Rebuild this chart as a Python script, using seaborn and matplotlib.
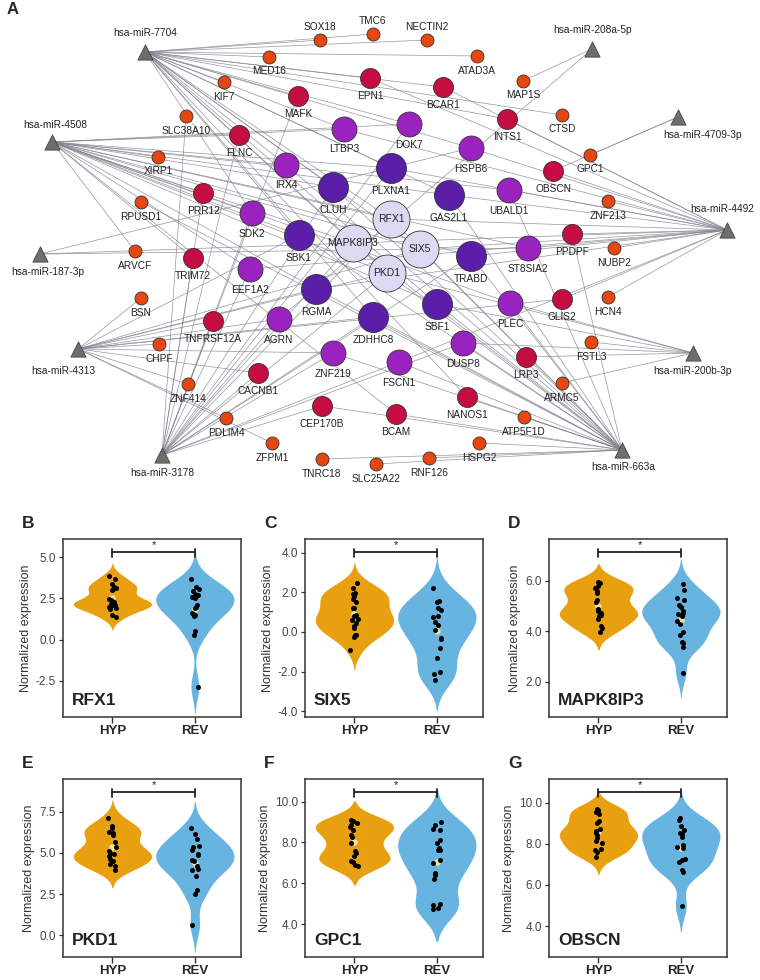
import numpy as np
import pandas as pd
import matplotlib
matplotlib.use("Agg")
import matplotlib.pyplot as plt
import seaborn as sns
from collections import Counter
from matplotlib.ticker import FormatStrFormatter
from matplotlib.transforms import blended_transform_factory

sns.set_style("white")
plt.rcParams["font.family"] = ["Liberation Sans", "DejaVu Sans"]
plt.rcParams["axes.unicode_minus"] = False

# ---------------- panel A data: miRNA -> target genes ----------------
targets = {
    "hsa-miR-7704": ["SOX18", "TMC6", "NECTIN2", "ATAD3A", "CTSD", "MED16", "KIF7", "EPN1",
                     "BCAR1", "INTS1", "MAFK", "NANOS1", "LTBP3", "DOK7", "HSPB6", "IRX4",
                     "SDK2", "CLUH", "PLXNA1", "GAS2L1", "SBK1", "ZDHHC8", "SBF1", "RFX1",
                     "SIX5", "MAPK8IP3", "PKD1"],
    "hsa-miR-4508": ["XIRP1", "ARVCF", "FLNC", "PRR12", "TRIM72", "BCAM", "LTBP3", "DOK7",
                     "IRX4", "SDK2", "UBALD1", "ST8SIA2", "EEF1A2", "PLEC", "CLUH", "PLXNA1",
                     "GAS2L1", "SBK1", "TRABD", "RGMA", "SBF1", "RFX1", "SIX5", "MAPK8IP3", "PKD1"],
    "hsa-miR-4492": ["HCN4", "NUBP2", "ZNF213", "EPN1", "BCAR1", "INTS1", "GLIS2", "PPDPF",
                     "OBSCN", "LTBP3", "HSPB6", "UBALD1", "ST8SIA2", "EEF1A2", "FSCN1", "PLXNA1",
                     "GAS2L1", "TRABD", "RGMA", "RFX1", "SIX5", "MAPK8IP3"],
    "hsa-miR-663a": ["RPUSD1", "TNRC18", "SLC25A22", "RNF126", "HSPG2", "ATP5F1D", "CEP170B",
                     "BCAM", "NANOS1", "LRP3", "PPDPF", "IRX4", "UBALD1", "ZNF219", "FSCN1",
                     "DUSP8", "PLEC", "CLUH", "GAS2L1", "SBK1", "TRABD", "RGMA", "ZDHHC8",
                     "SBF1", "RFX1", "SIX5", "MAPK8IP3", "PKD1"],
    "hsa-miR-3178": ["SLC38A10", "MAFK", "FLNC", "PRR12", "TRIM72", "TNFRSF12A", "CACNB1",
                     "CEP170B", "DOK7", "SDK2", "EEF1A2", "AGRN", "ZNF219", "FSCN1", "DUSP8",
                     "CLUH", "PLXNA1", "TRABD", "ZDHHC8", "RFX1", "MAPK8IP3", "PKD1"],
    "hsa-miR-4313": ["BSN", "CHPF", "ZNF414", "PDLIM4", "ZFPM1", "TNFRSF12A", "CACNB1", "GLIS2",
                     "AGRN", "ZNF219", "SBK1", "RGMA", "ZDHHC8", "SIX5", "PKD1"],
    "hsa-miR-187-3p": ["HSPB6", "ST8SIA2", "MAPK8IP3"],
    "hsa-miR-200b-3p": ["ARMC5", "FSTL3", "LRP3", "DUSP8", "PLEC", "SBF1", "PKD1"],
    "hsa-miR-208a-5p": ["MAP1S", "AGRN"],
    "hsa-miR-4709-3p": ["GPC1", "OBSCN"],
}

# layout of the network (pixel coordinates)
mir_pos = {
    "hsa-miR-7704": (145, 52), "hsa-miR-208a-5p": (592, 49), "hsa-miR-4709-3p": (678, 117),
    "hsa-miR-4508": (52, 142), "hsa-miR-4492": (727, 230), "hsa-miR-187-3p": (40, 254),
    "hsa-miR-4313": (78, 349), "hsa-miR-3178": (162, 455), "hsa-miR-200b-3p": (693, 353),
    "hsa-miR-663a": (622, 450),
}
mir_label_pos = {
    "hsa-miR-7704": (145, 33), "hsa-miR-208a-5p": (592, 30), "hsa-miR-4709-3p": (703, 135),
    "hsa-miR-4508": (55, 125), "hsa-miR-4492": (722, 209), "hsa-miR-187-3p": (48, 272),
    "hsa-miR-4313": (63, 371), "hsa-miR-3178": (162, 473), "hsa-miR-200b-3p": (692, 371),
    "hsa-miR-663a": (623, 467),
}
gene_pos = {
    "SOX18": (320, 40), "TMC6": (373, 34), "NECTIN2": (427, 40), "ATAD3A": (477, 56),
    "MAP1S": (523, 81), "CTSD": (562, 115), "MED16": (269, 57), "KIF7": (224, 82),
    "EPN1": (370, 78), "BCAR1": (443, 87), "MAFK": (298, 96), "SLC38A10": (186, 116),
    "INTS1": (507, 119), "FLNC": (239, 135), "LTBP3": (344, 129), "DOK7": (409, 124),
    "XIRP1": (158, 157), "HSPB6": (471, 148), "GPC1": (590, 155), "IRX4": (286, 165),
    "PLXNA1": (391, 168), "OBSCN": (553, 171), "CLUH": (333, 187), "GAS2L1": (449, 195),
    "UBALD1": (509, 190), "PRR12": (203, 193), "RPUSD1": (141, 202), "ZNF213": (608, 201),
    "SDK2": (252, 213), "RFX1": (391, 219), "SBK1": (299, 235), "MAPK8IP3": (353, 243),
    "SIX5": (420, 249), "PPDPF": (572, 234), "NUBP2": (614, 248), "ARVCF": (135, 251),
    "TRIM72": (193, 258), "ST8SIA2": (528, 248), "TRABD": (471, 256), "EEF1A2": (250, 269),
    "PKD1": (387, 273), "RGMA": (316, 289), "BSN": (141, 298), "HCN4": (608, 297),
    "GLIS2": (562, 299), "PLEC": (510, 303), "SBF1": (437, 304), "ZDHHC8": (373, 317),
    "AGRN": (279, 319), "TNFRSF12A": (213, 321), "CHPF": (159, 344), "FSTL3": (591, 342),
    "DUSP8": (463, 343), "ZNF219": (333, 353), "LRP3": (526, 357), "FSCN1": (399, 362),
    "CACNB1": (258, 373), "ARMC5": (562, 383), "ZNF414": (188, 384), "NANOS1": (467, 397),
    "CEP170B": (322, 406), "BCAM": (396, 414), "ATP5F1D": (524, 417), "PDLIM4": (226, 418),
    "ZFPM1": (272, 443), "HSPG2": (479, 443), "RNF126": (429, 458), "TNRC18": (322, 459),
    "SLC25A22": (376, 464),
}
labels_above = ["SOX18", "TMC6", "NECTIN2"]

# degree -> node style
deg_color = {1: "#E5470F", 2: "#C50D42", 3: "#9A22BE", 4: "#5A1FA6", 5: "#DCDAF2"}
deg_radius = {1: 6.5, 2: 10, 3: 12.5, 4: 15, 5: 18.5}

# ---------------- panels B-G data ----------------
panel_genes = ["RFX1", "SIX5", "MAPK8IP3", "PKD1", "GPC1", "OBSCN"]
panel_letters = ["B", "C", "D", "E", "F", "G"]
hyp_values = {
    "RFX1": [3.85, 3.65, 3.35, 3.2, 3.1, 3.05, 3.0, 2.45, 2.4, 2.35, 2.3, 2.1, 2.05, 2.0,
             2.15, 1.9, 1.85, 1.5, 1.35],
    "SIX5": [2.5, 2.2, 1.97, 1.92, 1.8, 1.65, 1.5, 1.22, 1.2, 0.85, 0.8, 0.65, 0.58, 0.45,
             0.3, 0.22, -0.13, -0.17, -0.25, -0.92],
    "MAPK8IP3": [5.95, 5.9, 5.78, 5.7, 5.6, 5.5, 5.25, 5.15, 4.88, 4.78, 4.7, 4.65, 4.6,
                 4.5, 4.2, 4.12, 3.98],
    "PKD1": [7.15, 6.65, 6.5, 6.3, 6.2, 6.1, 5.65, 5.35, 5.1, 5.0, 4.95, 4.8, 4.65, 4.5,
             4.3, 4.2, 3.95],
    "GPC1": [9.1, 9.05, 8.95, 8.85, 8.75, 8.6, 8.35, 8.25, 7.95, 7.6, 7.5, 7.35, 7.1, 7.05,
             6.9, 6.85],
    "OBSCN": [9.7, 9.65, 9.55, 9.45, 9.1, 9.0, 8.7, 8.6, 8.55, 8.45, 8.3, 8.15, 8.05, 7.75,
              7.7, 7.6, 7.35],
}
rev_values = {
    "RFX1": [3.65, 3.2, 3.05, 2.95, 2.75, 2.7, 2.6, 2.5, 2.1, 2.0, 1.9, 1.6, 1.5, 1.45, 0.5,
             0.3, -2.85],
    "SIX5": [2.22, 1.58, 1.53, 1.2, 1.12, 0.83, 0.75, 0.5, 0.33, 0.08, -0.3, -0.37, -0.83,
             -1.33, -2.0, -2.12, -2.42],
    "MAPK8IP3": [5.87, 5.62, 5.32, 5.25, 5.02, 4.97, 4.78, 4.73, 4.67, 4.6, 4.4, 4.3, 3.97,
                 3.84, 3.58, 3.52, 3.36, 2.35],
    "PKD1": [6.5, 6.15, 5.85, 5.4, 5.35, 5.2, 4.95, 4.85, 4.6, 4.5, 4.2, 4.05, 3.95, 3.6,
             2.75, 2.5, 0.6],
    "GPC1": [8.98, 8.87, 8.65, 8.62, 8.14, 7.97, 7.73, 7.65, 7.62, 7.16, 7.0, 6.52, 6.43,
             6.19, 5.0, 4.95, 4.8, 4.75],
    "OBSCN": [9.24, 9.16, 8.87, 8.68, 8.52, 8.47, 8.35, 7.95, 7.84, 7.79, 7.26, 7.19, 7.13,
              6.71, 6.61, 4.97],
}
y_ticks = {
    "RFX1": [-2.5, 0.0, 2.5, 5.0], "SIX5": [-4.0, -2.0, 0.0, 2.0, 4.0],
    "MAPK8IP3": [2.0, 4.0, 6.0], "PKD1": [0.0, 2.5, 5.0, 7.5],
    "GPC1": [4.0, 6.0, 8.0, 10.0], "OBSCN": [4.0, 6.0, 8.0, 10.0],
}
y_limits = {
    "RFX1": (-4.7, 6.1), "SIX5": (-4.3, 4.7), "MAPK8IP3": (0.6, 7.65),
    "PKD1": (-1.33, 9.5), "GPC1": (2.4, 11.1), "OBSCN": (2.5, 11.15),
}
groups = ["HYP", "REV"]
palette = {"HYP": "#E8A010", "REV": "#68B4E0"}

W, H = 760, 980
fig = plt.figure(figsize=(W / 100, H / 100), dpi=100)

# ---------------- panel A: network ----------------
ax = fig.add_axes([0, 1 - 500 / H, 1, 500 / H])
ax.set_xlim(0, W)
ax.set_ylim(500, 0)
ax.axis("off")

degree = Counter(g for genes in targets.values() for g in genes)

for mir, genes in targets.items():
    mx, my = mir_pos[mir]
    for g in genes:
        gx, gy = gene_pos[g]
        ax.plot([mx, gx], [my, gy], color="#85828f", lw=0.5, alpha=0.85, zorder=1)

for g, (gx, gy) in gene_pos.items():
    d = min(degree[g], 5)
    r = deg_radius[d]
    ax.scatter([gx], [gy], s=(2 * r * 0.72) ** 2, color=deg_color[d],
               edgecolor="#333333", linewidth=0.6, zorder=3)
    if d == 5:
        ax.text(gx, gy, g, ha="center", va="center", fontsize=7.5, color="#222", zorder=4)
    elif g in labels_above:
        ax.text(gx, gy - r - 7, g, ha="center", va="center", fontsize=7.3, color="#222", zorder=4)
    else:
        ax.text(gx, gy + r + 8, g, ha="center", va="center", fontsize=7.3, color="#222", zorder=4)

for mir, (mx, my) in mir_pos.items():
    ax.scatter([mx], [my], marker="^", s=120, color="#6e6e6e", edgecolor="#444444",
               linewidth=0.6, zorder=3)
    lx, ly = mir_label_pos[mir]
    ax.text(lx, ly, mir, ha="center", va="center", fontsize=7.3, color="#222", zorder=4)

fig.text(7 / W, 1 - 9 / H, "A", fontsize=12, fontweight="bold", ha="left", va="center")

# ---------------- panels B-G: violins ----------------
np.random.seed(7)
lefts = [63, 305, 549]
tops = [539, 779]
aw, ah = 178, 178

for i, gene in enumerate(panel_genes):
    col, row = i % 3, i // 3
    left, top = lefts[col], tops[row]
    vax = fig.add_axes([left / W, 1 - (top + ah) / H, aw / W, ah / H])
    hyp, rev = hyp_values[gene], rev_values[gene]
    df = pd.DataFrame({"group": ["HYP"] * len(hyp) + ["REV"] * len(rev),
                       "value": hyp + rev})
    sns.violinplot(data=df, x="group", y="value", hue="group", order=groups,
                   hue_order=groups, palette=palette, inner=None, linewidth=0, cut=2.3,
                   bw_adjust=0.85, density_norm="width", width=0.95, saturation=1,
                   legend=False, ax=vax)
    sns.stripplot(data=df, x="group", y="value", order=groups, color="black", size=3.6,
                  jitter=0.05, ax=vax, zorder=3)
    sns.pointplot(data=df, x="group", y="value", order=groups, estimator="mean",
                  errorbar=None, linestyle="none", marker="o", markersize=2.6,
                  color="#e9e6a0", ax=vax)

    vax.set_xlim(-0.6, 1.56)
    vax.set_ylim(*y_limits[gene])
    vax.set_yticks(y_ticks[gene])
    vax.yaxis.set_major_formatter(FormatStrFormatter("%.1f"))
    vax.set_xlabel("")
    vax.set_ylabel("Normalized expression", fontsize=9, color="#333", labelpad=3)
    for s in vax.spines.values():
        s.set_visible(True)
        s.set_linewidth(1.1)
        s.set_color("#333333")
    vax.tick_params(axis="y", left=True, length=3, width=0.9, labelsize=8.5,
                    labelcolor="#444444", color="#333333", pad=2)
    vax.tick_params(axis="x", bottom=True, length=4, width=1.0, labelsize=9.5,
                    color="#333333", pad=2)
    for t in vax.get_xticklabels():
        t.set_fontweight("bold")

    tr = blended_transform_factory(vax.transData, vax.transAxes)
    vax.plot([0, 1], [0.928, 0.928], transform=tr, color="#222", lw=1.3, clip_on=False)
    vax.plot([0, 0], [0.9, 0.945], transform=tr, color="#222", lw=1.3, clip_on=False)
    vax.plot([1, 1], [0.9, 0.945], transform=tr, color="#222", lw=1.3, clip_on=False)
    vax.text(0.5, 0.935, "*", transform=tr, ha="center", va="bottom", fontsize=8, color="#222")

    vax.text(0.05, 0.09, gene, transform=vax.transAxes, fontsize=12.5, fontweight="bold",
             ha="left", va="center", color="#222")
    fig.text((left - 41) / W, 1 - (top - 16) / H, panel_letters[i], fontsize=12.5,
             fontweight="bold", ha="left", va="center")

fig.savefig("out.png", dpi=100)
